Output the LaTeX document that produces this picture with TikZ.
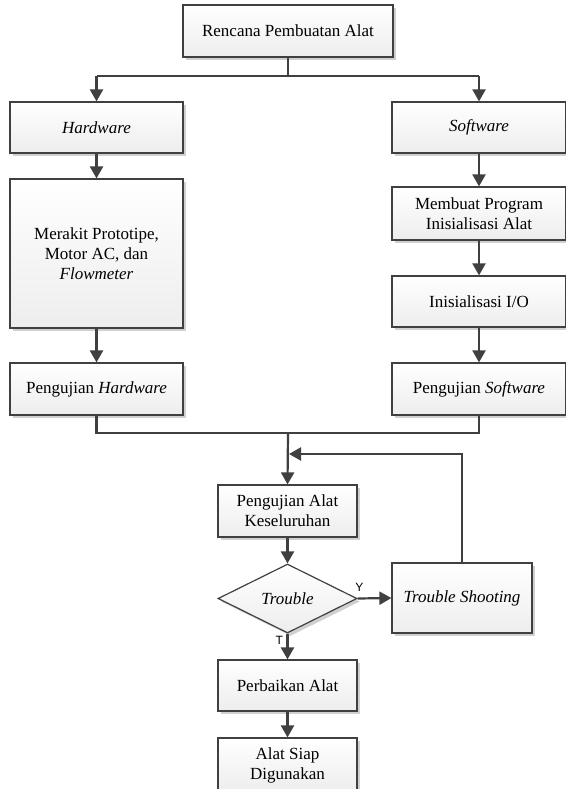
\documentclass[tikz,border=0pt]{standalone}
\usepackage{fontspec}
\setmainfont{Liberation Serif}
\newfontfamily\lblfont{Liberation Sans}
\usetikzlibrary{shapes.geometric,arrows.meta,shadows,calc}
\definecolor{edge}{HTML}{404040}
\definecolor{shd}{HTML}{D0D0D0}
\tikzset{
  box/.style={draw=edge, line width=1.2pt, top color=white, bottom color=black!7,
    align=center, inner sep=2pt, font=\fontsize{17}{20}\selectfont,
    drop shadow={shadow xshift=3pt, shadow yshift=-3pt, fill=shd, opacity=1}},
  dia/.style={box, shape=diamond, inner sep=0pt, aspect=2},
  conn/.style={draw=edge, line width=2.2pt},
  arr/.style={conn, -{Triangle[length=12pt,width=13pt]}},
  lbl/.style={font=\lblfont\fontsize{12}{14}\selectfont, text=black}
}
\begin{document}
\begin{tikzpicture}[x=1pt,y=-1pt]
\useasboundingbox[fill=white] (0,0) rectangle (565,789);
\node[box, minimum width=210pt, minimum height=52pt] (rencana) at (288,31) {Rencana Pembuatan Alat};
\node[box, minimum width=173pt, minimum height=51pt] (hw) at (96.5,127.5) {\itshape Hardware};
\node[box, minimum width=173pt, minimum height=149pt] (merakit) at (96.5,253.5) {Merakit Prototipe,\\Motor AC, dan\\\itshape Flowmeter};
\node[box, minimum width=173pt, minimum height=52pt] (phw) at (96.5,389) {Pengujian \textit{Hardware}};
\node[box, minimum width=174pt, minimum height=51pt] (sw) at (479,127.5) {\itshape Software};
\node[box, minimum width=174pt, minimum height=53pt] (membuat) at (479,213.5) {Membuat Program\\Inisialisasi Alat};
\node[box, minimum width=174pt, minimum height=51pt] (inisial) at (479,301.5) {Inisialisasi I/O};
\node[box, minimum width=174pt, minimum height=52pt] (psw) at (479,389) {Pengujian \textit{Software}};
\node[box, minimum width=139pt, minimum height=52pt] (pak) at (287.5,511) {Pengujian Alat\\Keseluruhan};
\node[dia, minimum width=139pt, minimum height=69pt] (dec) at (287.5,598.5) {\itshape Trouble};
\node[box, minimum width=140pt, minimum height=70pt] (ts) at (462,598) {\itshape Trouble Shooting};
\node[box, minimum width=139pt, minimum height=51pt] (perb) at (287.5,685.5) {Perbaikan Alat};
\node[box, minimum width=139pt, minimum height=54pt] (siap) at (287.5,765) {Alat Siap\\Digunakan};

\coordinate (split) at (288,76);
\coordinate (merge) at (288,433);
\coordinate (back) at (288,454);

\draw[conn] (rencana.south) -- (split);
\draw[conn] (hw.north |- split) -- (sw.north |- split);
\draw[arr] (hw.north |- split) -- (hw.north);
\draw[arr] (sw.north |- split) -- (sw.north);
\draw[arr] (hw) -- (merakit);
\draw[arr] (merakit) -- (phw);
\draw[arr] (sw) -- (membuat);
\draw[arr] (membuat) -- (inisial);
\draw[arr] (inisial) -- (psw);
\draw[conn] (phw.south) -- (phw.south |- merge) -- (psw.south |- merge) -- (psw.south);
\draw[arr] (merge) -- (pak.north);
\draw[arr] (ts.north) -- (ts.north |- back) -- ([xshift=1pt]back);
\draw[arr] (pak) -- (dec);
\draw[arr] (dec.east) -- node[lbl, above, pos=0.05, xshift=0pt, yshift=3pt] {Y} (ts.west);
\draw[arr] (dec.south) -- node[lbl, left, pos=0.25, yshift=0pt] {T} (perb.north);
\draw[arr] (perb) -- (siap);
\end{tikzpicture}
\end{document}
